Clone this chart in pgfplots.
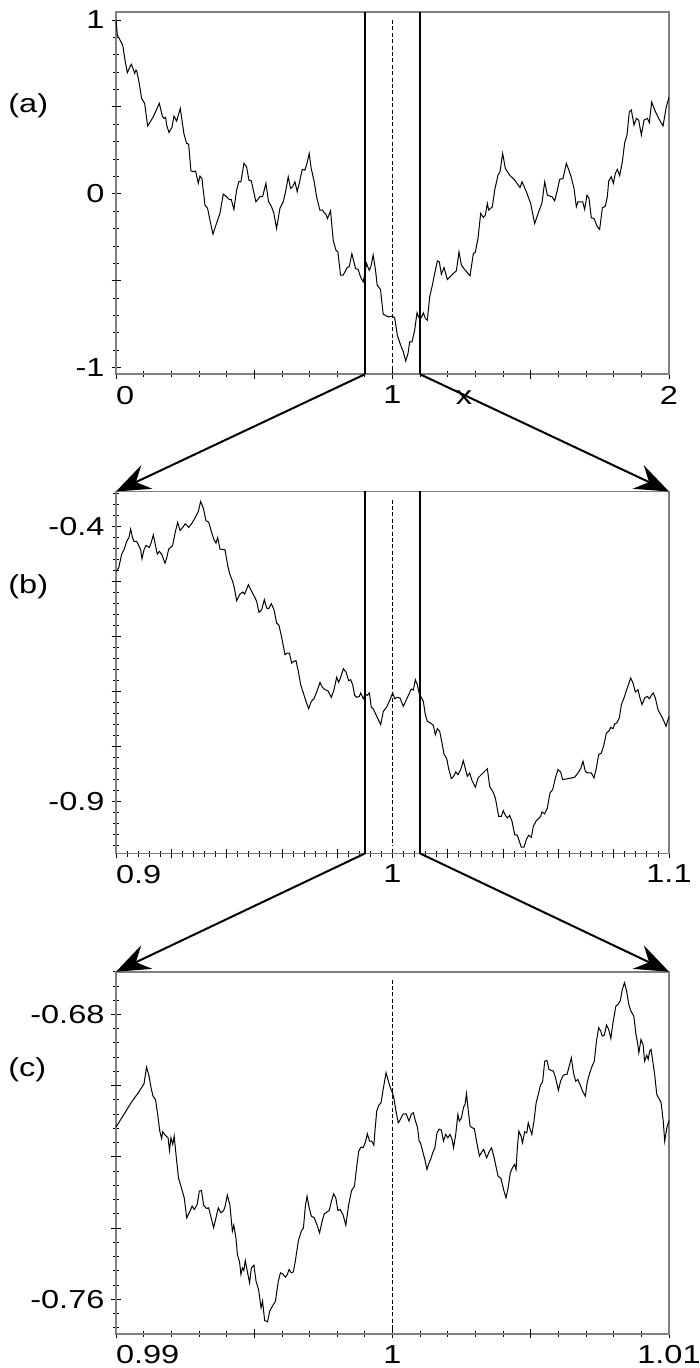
\documentclass[border=0pt]{standalone}
\usepackage{pgfplots}
\pgfplotsset{compat=1.18}
\usepackage{fontspec}
\setmainfont{Liberation Sans}[FakeStretch=1.25]
\usetikzlibrary{arrows.meta}
\newcommand{\lab}{\fontsize{13}{15}\selectfont}

\pgfplotstableread{
x y
0 1.000
0.0048 0.914
0.0145 0.885
0.0241 0.856
0.0325 0.770
0.0410 0.697
0.0506 0.731
0.0554 0.745
0.0627 0.716
0.0675 0.693
0.0723 0.712
0.0747 0.708
0.0819 0.655
0.0928 0.549
0.1036 0.520
0.1145 0.390
0.1349 0.443
0.1566 0.520
0.1675 0.447
0.1735 0.434
0.1795 0.440
0.1831 0.395
0.1916 0.353
0.2024 0.382
0.2096 0.447
0.2193 0.418
0.2325 0.491
0.2458 0.344
0.2554 0.290
0.2627 0.286
0.2711 0.132
0.2795 0.127
0.2880 0.131
0.2976 0.060
0.3036 0.102
0.3108 0.088
0.3217 -0.065
0.3313 -0.084
0.3398 -0.152
0.3506 -0.232
0.3614 -0.180
0.3759 -0.113
0.3880 -0.002
0.4000 -0.017
0.4096 -0.033
0.4169 -0.033
0.4265 -0.090
0.4361 0.021
0.4446 0.071
0.4518 0.069
0.4627 0.175
0.4723 0.155
0.4807 0.079
0.4892 0.075
0.5060 -0.046
0.5205 -0.017
0.5301 -0.017
0.5422 0.060
0.5518 -0.046
0.5627 -0.075
0.5711 -0.113
0.5807 -0.200
0.5928 -0.084
0.6048 -0.046
0.6133 0.012
0.6229 0.098
0.6313 0.031
0.6386 0.040
0.6470 0.069
0.6554 0.012
0.6627 0.060
0.6735 0.140
0.6831 0.136
0.6892 0.165
0.6988 0.232
0.7060 0.146
0.7169 0.069
0.7253 -0.017
0.7373 -0.094
0.7470 -0.094
0.7530 -0.109
0.7590 -0.117
0.7651 -0.142
0.7759 -0.098
0.7855 -0.267
0.7952 -0.324
0.8024 -0.334
0.8120 -0.468
0.8217 -0.468
0.8361 -0.424
0.8434 -0.420
0.8530 -0.344
0.8663 -0.430
0.8759 -0.436
0.8843 -0.478
0.8940 -0.507
0.9000 -0.459
0.9060 -0.401
0.9157 -0.440
0.9217 -0.420
0.9301 -0.353
0.9386 -0.440
0.9446 -0.526
0.9566 -0.551
0.9663 -0.693
0.9843 -0.708
0.9994 -0.704
1.0078 -0.712
1.0175 -0.814
1.0295 -0.871
1.0392 -0.910
1.0476 -0.962
1.0561 -0.919
1.0621 -0.852
1.0705 -0.852
1.0802 -0.785
1.0886 -0.685
1.0958 -0.712
1.1043 -0.712
1.1115 -0.685
1.1187 -0.718
1.1260 -0.727
1.1344 -0.593
1.1441 -0.526
1.1525 -0.459
1.1622 -0.386
1.1694 -0.392
1.1766 -0.463
1.1863 -0.424
1.1983 -0.493
1.2128 -0.470
1.2309 -0.443
1.2405 -0.334
1.2490 -0.411
1.2610 -0.436
1.2803 -0.472
1.2924 -0.344
1.2996 -0.336
1.3092 -0.257
1.3189 -0.113
1.3285 -0.136
1.3357 -0.123
1.3430 -0.056
1.3478 -0.094
1.3611 -0.075
1.3695 0.021
1.3816 0.107
1.3888 0.127
1.3984 0.232
1.4081 0.146
1.4238 0.107
1.4418 0.079
1.4611 0.036
1.4684 0.069
1.4840 0.012
1.4997 -0.056
1.5142 -0.171
1.5287 -0.104
1.5407 -0.052
1.5504 0.069
1.5600 -0.008
1.5769 -0.017
1.5865 -0.040
1.5962 0.021
1.6046 0.083
1.6166 0.088
1.6287 0.175
1.6444 0.107
1.6564 0.031
1.6649 -0.075
1.6709 -0.046
1.6878 -0.046
1.6950 -0.090
1.7034 -0.008
1.7107 -0.027
1.7191 -0.138
1.7287 -0.142
1.7408 -0.190
1.7492 -0.205
1.7589 -0.081
1.7697 -0.071
1.7770 -0.017
1.7818 0.073
1.7914 0.098
1.7987 0.060
1.8059 0.117
1.8131 0.140
1.8216 0.104
1.8312 0.184
1.8397 0.294
1.8481 0.338
1.8565 0.472
1.8638 0.482
1.8734 0.395
1.8819 0.434
1.8903 0.424
1.9000 0.338
1.9096 0.424
1.9217 0.434
1.9289 0.409
1.9373 0.528
1.9482 0.482
1.9626 0.434
1.9783 0.390
1.9903 0.501
2.0000 0.555
}\dataA

\pgfplotstableread{
x y
0.90000 -0.4818
0.90096 -0.4758
0.90205 -0.4503
0.90289 -0.4424
0.90386 -0.4273
0.90470 -0.4200
0.90530 -0.4048
0.90603 -0.4212
0.90651 -0.4273
0.90747 -0.4273
0.90820 -0.4345
0.90892 -0.4424
0.90940 -0.4588
0.91013 -0.4424
0.91085 -0.4345
0.91145 -0.4364
0.91206 -0.4382
0.91278 -0.4285
0.91350 -0.4152
0.91423 -0.4333
0.91495 -0.4503
0.91567 -0.4455
0.91652 -0.4503
0.91712 -0.4588
0.91772 -0.4667
0.91832 -0.4576
0.91905 -0.4412
0.91977 -0.4382
0.92049 -0.4345
0.92134 -0.4121
0.92230 -0.3927
0.92315 -0.4073
0.92411 -0.4018
0.92508 -0.3952
0.92580 -0.3988
0.92628 -0.4018
0.92749 -0.3939
0.92869 -0.3836
0.92978 -0.3727
0.93062 -0.3545
0.93159 -0.3667
0.93255 -0.3897
0.93351 -0.3921
0.93448 -0.4091
0.93544 -0.4242
0.93617 -0.4303
0.93677 -0.4200
0.93761 -0.4412
0.93942 -0.4424
0.94039 -0.4709
0.94123 -0.4879
0.94219 -0.5000
0.94280 -0.5121
0.94364 -0.5352
0.94485 -0.5230
0.94581 -0.5194
0.94653 -0.5230
0.94786 -0.5061
0.94907 -0.5182
0.95003 -0.5273
0.95087 -0.5364
0.95172 -0.5564
0.95268 -0.5515
0.95365 -0.5333
0.95449 -0.5485
0.95521 -0.5497
0.95618 -0.5406
0.95714 -0.5515
0.95811 -0.5758
0.95895 -0.5800
0.95992 -0.6018
0.96112 -0.6333
0.96197 -0.6303
0.96269 -0.6303
0.96353 -0.6485
0.96426 -0.6455
0.96510 -0.6442
0.96594 -0.6636
0.96679 -0.6879
0.96775 -0.7030
0.96872 -0.7182
0.96968 -0.7315
0.97065 -0.7182
0.97161 -0.7133
0.97257 -0.7012
0.97378 -0.6836
0.97462 -0.6927
0.97559 -0.6970
0.97667 -0.6988
0.97788 -0.7109
0.97884 -0.6970
0.97981 -0.6745
0.98053 -0.6836
0.98125 -0.6745
0.98222 -0.6588
0.98318 -0.6648
0.98415 -0.6806
0.98487 -0.6788
0.98559 -0.6879
0.98632 -0.7073
0.98704 -0.7109
0.98800 -0.7091
0.98849 -0.7030
0.98945 -0.7133
0.99018 -0.7048
0.99090 -0.7073
0.99162 -0.7030
0.99235 -0.7291
0.99307 -0.7321
0.99403 -0.7424
0.99488 -0.7515
0.99572 -0.7606
0.99669 -0.7364
0.99789 -0.7285
0.99910 -0.7152
1.00006 -0.7030
1.00078 -0.7133
1.00175 -0.7109
1.00271 -0.7121
1.00392 -0.7273
1.00500 -0.7152
1.00584 -0.7061
1.00681 -0.6958
1.00753 -0.6976
1.00826 -0.6788
1.00898 -0.6879
1.00982 -0.7073
1.01043 -0.7109
1.01115 -0.7182
1.01187 -0.7424
1.01260 -0.7545
1.01380 -0.7576
1.01477 -0.7618
1.01549 -0.7788
1.01621 -0.7679
1.01706 -0.7727
1.01790 -0.7939
1.01862 -0.8139
1.01959 -0.8224
1.02031 -0.8406
1.02128 -0.8588
1.02212 -0.8545
1.02284 -0.8467
1.02369 -0.8515
1.02465 -0.8424
1.02561 -0.8261
1.02634 -0.8406
1.02706 -0.8545
1.02791 -0.8485
1.02875 -0.8624
1.02996 -0.8745
1.03092 -0.8576
1.03213 -0.8515
1.03309 -0.8467
1.03430 -0.8406
1.03514 -0.8727
1.03635 -0.8830
1.03719 -0.8939
1.03840 -0.9273
1.03936 -0.9273
1.04008 -0.9170
1.04081 -0.9255
1.04153 -0.9303
1.04237 -0.9255
1.04322 -0.9364
1.04418 -0.9606
1.04515 -0.9618
1.04587 -0.9727
1.04659 -0.9836
1.04756 -0.9836
1.04840 -0.9697
1.04924 -0.9618
1.05021 -0.9655
1.05093 -0.9455
1.05202 -0.9352
1.05286 -0.9315
1.05359 -0.9273
1.05407 -0.9194
1.05503 -0.9230
1.05600 -0.9121
1.05696 -0.8848
1.05793 -0.8788
1.05889 -0.8576
1.05985 -0.8424
1.06082 -0.8467
1.06154 -0.8606
1.06347 -0.8588
1.06588 -0.8564
1.06709 -0.8485
1.06805 -0.8406
1.06890 -0.8273
1.06974 -0.8455
1.07070 -0.8485
1.07191 -0.8485
1.07287 -0.8576
1.07372 -0.8394
1.07456 -0.8152
1.07553 -0.8121
1.07649 -0.7970
1.07733 -0.7758
1.07818 -0.7727
1.07890 -0.7655
1.07975 -0.7679
1.08035 -0.7594
1.08107 -0.7576
1.08203 -0.7485
1.08276 -0.7242
1.08372 -0.7121
1.08469 -0.6970
1.08541 -0.6867
1.08613 -0.6758
1.08698 -0.6848
1.08782 -0.7012
1.08879 -0.6970
1.08951 -0.7121
1.09023 -0.7242
1.09120 -0.7121
1.09216 -0.7091
1.09288 -0.7133
1.09361 -0.7073
1.09433 -0.7030
1.09506 -0.7121
1.09602 -0.7333
1.09699 -0.7424
1.09819 -0.7545
1.09891 -0.7636
1.10000 -0.7455
}\dataB

\pgfplotstableread{
x y
0.990000 -0.71166
0.990286 -0.70810
0.990545 -0.70482
0.990805 -0.70201
0.991013 -0.69949
0.991104 -0.69480
0.991195 -0.69733
0.991273 -0.70080
0.991338 -0.70295
0.991429 -0.70389
0.991506 -0.70810
0.991584 -0.71279
0.991649 -0.71485
0.991688 -0.71297
0.991779 -0.71391
0.991883 -0.71466
0.991935 -0.71822
0.991987 -0.71466
0.992052 -0.71653
0.992104 -0.71419
0.992182 -0.72028
0.992260 -0.72590
0.992364 -0.72871
0.992468 -0.73152
0.992558 -0.73714
0.992649 -0.73574
0.992753 -0.73387
0.992831 -0.73480
0.992935 -0.73340
0.993013 -0.72965
0.993091 -0.72946
0.993169 -0.73358
0.993273 -0.73452
0.993351 -0.73433
0.993442 -0.73714
0.993532 -0.73995
0.993610 -0.73733
0.993701 -0.73433
0.993792 -0.73574
0.993896 -0.73508
0.993948 -0.73387
0.994026 -0.73077
0.994117 -0.73340
0.994208 -0.74089
0.994260 -0.73920
0.994338 -0.74276
0.994390 -0.74745
0.994468 -0.74951
0.994519 -0.75307
0.994571 -0.75120
0.994623 -0.75195
0.994675 -0.74913
0.994753 -0.75232
0.994831 -0.75541
0.994896 -0.75120
0.994987 -0.75045
0.995065 -0.75494
0.995156 -0.75728
0.995247 -0.76244
0.995299 -0.76056
0.995377 -0.76600
0.995481 -0.76637
0.995558 -0.76337
0.995636 -0.76225
0.995766 -0.76056
0.995870 -0.75494
0.995948 -0.75260
0.996026 -0.75288
0.996130 -0.75382
0.996195 -0.75307
0.996260 -0.75166
0.996338 -0.75260
0.996416 -0.75232
0.996494 -0.74885
0.996597 -0.74351
0.996701 -0.74089
0.996779 -0.73995
0.996844 -0.73415
0.996909 -0.73105
0.996987 -0.73433
0.997065 -0.73667
0.997169 -0.73714
0.997273 -0.73920
0.997364 -0.74136
0.997455 -0.73808
0.997532 -0.73602
0.997636 -0.73546
0.997714 -0.73508
0.997792 -0.73246
0.997870 -0.73040
0.997948 -0.73152
0.998026 -0.73508
0.998104 -0.73480
0.998208 -0.73621
0.998312 -0.73920
0.998416 -0.73340
0.998519 -0.72946
0.998623 -0.72824
0.998701 -0.72309
0.998779 -0.71841
0.998857 -0.71728
0.998935 -0.71747
0.999013 -0.71607
0.999091 -0.71354
0.999169 -0.71560
0.999247 -0.71560
0.999325 -0.71672
0.999377 -0.71166
0.999429 -0.70717
0.999506 -0.70548
0.999584 -0.70482
0.999662 -0.70108
0.999766 -0.69639
0.999844 -0.69855
0.999922 -0.70061
1.000000 -0.70201
1.000052 -0.70361
1.000130 -0.70735
1.000208 -0.71044
1.000286 -0.70951
1.000390 -0.70792
1.000494 -0.70792
1.000597 -0.70998
1.000675 -0.70810
1.000753 -0.70763
1.000831 -0.70998
1.000909 -0.71185
1.000961 -0.71560
1.001013 -0.71607
1.001091 -0.71841
1.001169 -0.72075
1.001247 -0.72356
1.001299 -0.72216
1.001377 -0.72075
1.001455 -0.71888
1.001532 -0.71747
1.001610 -0.71326
1.001688 -0.71223
1.001766 -0.71251
1.001844 -0.71560
1.001922 -0.71372
1.002000 -0.71466
1.002078 -0.71372
1.002156 -0.71513
1.002208 -0.71747
1.002286 -0.71372
1.002364 -0.70810
1.002416 -0.70998
1.002494 -0.70904
1.002571 -0.70604
1.002623 -0.70529
1.002675 -0.70230
1.002727 -0.70604
1.002805 -0.71138
1.002883 -0.71185
1.002961 -0.71213
1.003039 -0.71560
1.003143 -0.71981
1.003247 -0.71841
1.003299 -0.71794
1.003403 -0.72028
1.003506 -0.71841
1.003584 -0.71747
1.003662 -0.71981
1.003740 -0.72262
1.003818 -0.72543
1.003922 -0.72609
1.004026 -0.72946
1.004104 -0.73152
1.004182 -0.72871
1.004260 -0.72450
1.004338 -0.72309
1.004416 -0.72216
1.004468 -0.72356
1.004519 -0.71700
1.004571 -0.71279
1.004649 -0.71419
1.004701 -0.71607
1.004779 -0.71297
1.004857 -0.71326
1.004909 -0.71044
1.004961 -0.71185
1.005039 -0.71372
1.005117 -0.70998
1.005195 -0.70482
1.005273 -0.70248
1.005351 -0.69986
1.005429 -0.69892
1.005506 -0.69312
1.005584 -0.69293
1.005662 -0.69546
1.005740 -0.69574
1.005818 -0.69593
1.005896 -0.69780
1.006000 -0.70136
1.006078 -0.69874
1.006156 -0.69733
1.006234 -0.69686
1.006312 -0.69686
1.006390 -0.69452
1.006468 -0.69218
1.006545 -0.69639
1.006623 -0.69874
1.006701 -0.69827
1.006779 -0.69967
1.006883 -0.70173
1.006974 -0.70295
1.007039 -0.69920
1.007117 -0.69686
1.007195 -0.69499
1.007299 -0.69312
1.007377 -0.68749
1.007455 -0.68375
1.007532 -0.68468
1.007584 -0.68609
1.007662 -0.68581
1.007740 -0.68300
1.007818 -0.68422
1.007896 -0.68675
1.007974 -0.68234
1.008078 -0.67766
1.008156 -0.67719
1.008234 -0.67625
1.008312 -0.67297
1.008390 -0.67110
1.008468 -0.67344
1.008545 -0.67719
1.008623 -0.67906
1.008727 -0.68047
1.008805 -0.68562
1.008857 -0.68768
1.008909 -0.69077
1.008987 -0.68703
1.009065 -0.68862
1.009117 -0.69312
1.009195 -0.69143
1.009247 -0.69265
1.009299 -0.69030
1.009351 -0.68984
1.009403 -0.69265
1.009481 -0.69686
1.009558 -0.70248
1.009636 -0.70361
1.009714 -0.70482
1.009792 -0.70998
1.009844 -0.71560
1.009922 -0.71185
1.010000 -0.70979
}\dataC

\pgfplotsset{
  panel/.style={
    scale only axis, width=276.5pt, height=181pt,
    anchor=north west,
    axis line style={draw=black!50, line width=0.9pt},
    tick style={black, line width=0.4pt},
    tick align=center,
    major tick length=4.5pt, minor tick length=3pt,
    xtick pos=left, ytick pos=left,
    tick label style={font=\lab},
    extra tick style={major tick length=4.5pt},
    extra x tick labels={}, extra y tick labels={},
    clip=false,
  },
  curve/.style={black, line width=0.5pt, mark=none},
}
\tikzset{
  zoomline/.style={black, line width=1pt},
  dashline/.style={black, line width=0.35pt, dash pattern=on 2pt off 1.2pt},
  zarrow/.style={zoomline, -{Stealth[length=17pt,width=13pt,inset=6pt]}},
}

\begin{document}
\begin{tikzpicture}
\useasboundingbox (0pt,0pt) rectangle (350pt,-684pt);

% ---------- panel (a)
\begin{axis}[panel, at={(58pt,-6.15pt)},
  xmin=0, xmax=2, ymin=-1.0386, ymax=1.0443,
  xtick={0,1,2}, xticklabels={\makebox[0pt][l]{0},1,2},
  minor x tick num=9,
  ytick={-1,0,1}, yticklabels={-1,0,1},
  minor y tick num=9,
  extra x ticks={0.5,1.5}, extra y ticks={-0.5,0.5},
]
\addplot[curve] table[x=x,y=y] {\dataA};
\draw[dashline] (axis cs:1,1) -- (axis cs:1,-1.0386);
\draw[zoomline] (axis cs:0.9,1.0443) -- (axis cs:0.9,-1.0386);
\draw[zoomline] (axis cs:1.1,1.0443) -- (axis cs:1.1,-1.0386);
\coordinate (aL) at (axis cs:0.9,-1.0386);
\coordinate (aR) at (axis cs:1.1,-1.0386);
\end{axis}

% ---------- panel (b)
\begin{axis}[panel, at={(58pt,-245.75pt)},
  xmin=0.9, xmax=1.1, ymin=-0.995, ymax=-0.3364,
  xtick={0.9,1,1.1}, xticklabels={\makebox[0pt][l]{0.9},1,1.1},
  minor x tick num=24,
  ytick={-0.9,-0.4}, yticklabels={-0.9,-0.4},
  minor ytick={-0.98,-0.96,-0.94,-0.92,-0.88,-0.86,-0.84,-0.82,-0.80,-0.78,-0.76,-0.74,-0.72,-0.70,-0.68,-0.66,-0.64,-0.62,-0.60,-0.58,-0.56,-0.54,-0.52,-0.50,-0.48,-0.46,-0.44,-0.42,-0.38,-0.36,-0.34},
  extra x ticks={0.92,0.94,0.96,0.98,1.02,1.04,1.06,1.08},
  extra y ticks={-0.8,-0.7,-0.6,-0.5},
]
\addplot[curve] table[x=x,y=y] {\dataB};
\draw[dashline] (axis cs:1,-0.351) -- (axis cs:1,-0.98);
\draw[zoomline] (axis cs:0.99,-0.3364) -- (axis cs:0.99,-0.995);
\draw[zoomline] (axis cs:1.01,-0.3364) -- (axis cs:1.01,-0.995);
\coordinate (bTL) at (rel axis cs:0,1);
\coordinate (bTR) at (rel axis cs:1,1);
\coordinate (bL) at (axis cs:0.99,-0.995);
\coordinate (bR) at (axis cs:1.01,-0.995);
\end{axis}

% ---------- panel (c)
\begin{axis}[panel, at={(58pt,-485.85pt)},
  xmin=0.99, xmax=1.01, ymin=-0.7697, ymax=-0.668,
  xtick={0.99,1,1.01}, xticklabels={\makebox[0pt][l]{0.99},1,1.01},
  minor x tick num=9,
  ytick={-0.76,-0.68}, yticklabels={-0.76,-0.68},
  minor ytick={-0.768,-0.764,-0.756,-0.752,-0.748,-0.744,-0.740,-0.736,-0.732,-0.728,-0.724,-0.720,-0.716,-0.712,-0.708,-0.704,-0.700,-0.696,-0.692,-0.688,-0.684,-0.676,-0.672,-0.668},
  extra x ticks={0.995,1.005},
  extra y ticks={-0.74,-0.72,-0.70},
]
\addplot[curve] table[x=x,y=y] {\dataC};
\draw[dashline] (axis cs:1,-0.6702) -- (axis cs:1,-0.7686);
\coordinate (cTL) at (rel axis cs:0,1);
\coordinate (cTR) at (rel axis cs:1,1);
\end{axis}

% ---------- zoom arrows
\draw[zarrow] (aL) -- (bTL);
\draw[zarrow] (aR) -- (bTR);
\draw[zarrow] (bL) -- (cTL);
\draw[zarrow] (bR) -- (cTR);

% ---------- labels
\node[font=\lab, anchor=west, inner sep=0pt] at (4pt,-53pt) {(a)};
\node[font=\lab, anchor=west, inner sep=0pt] at (4pt,-293.5pt) {(b)};
\node[font=\lab, anchor=west, inner sep=0pt] at (4pt,-535pt) {(c)};
\node[font=\lab, anchor=base, inner sep=0pt] at (232pt,-202.5pt) {x};
\end{tikzpicture}
\end{document}
